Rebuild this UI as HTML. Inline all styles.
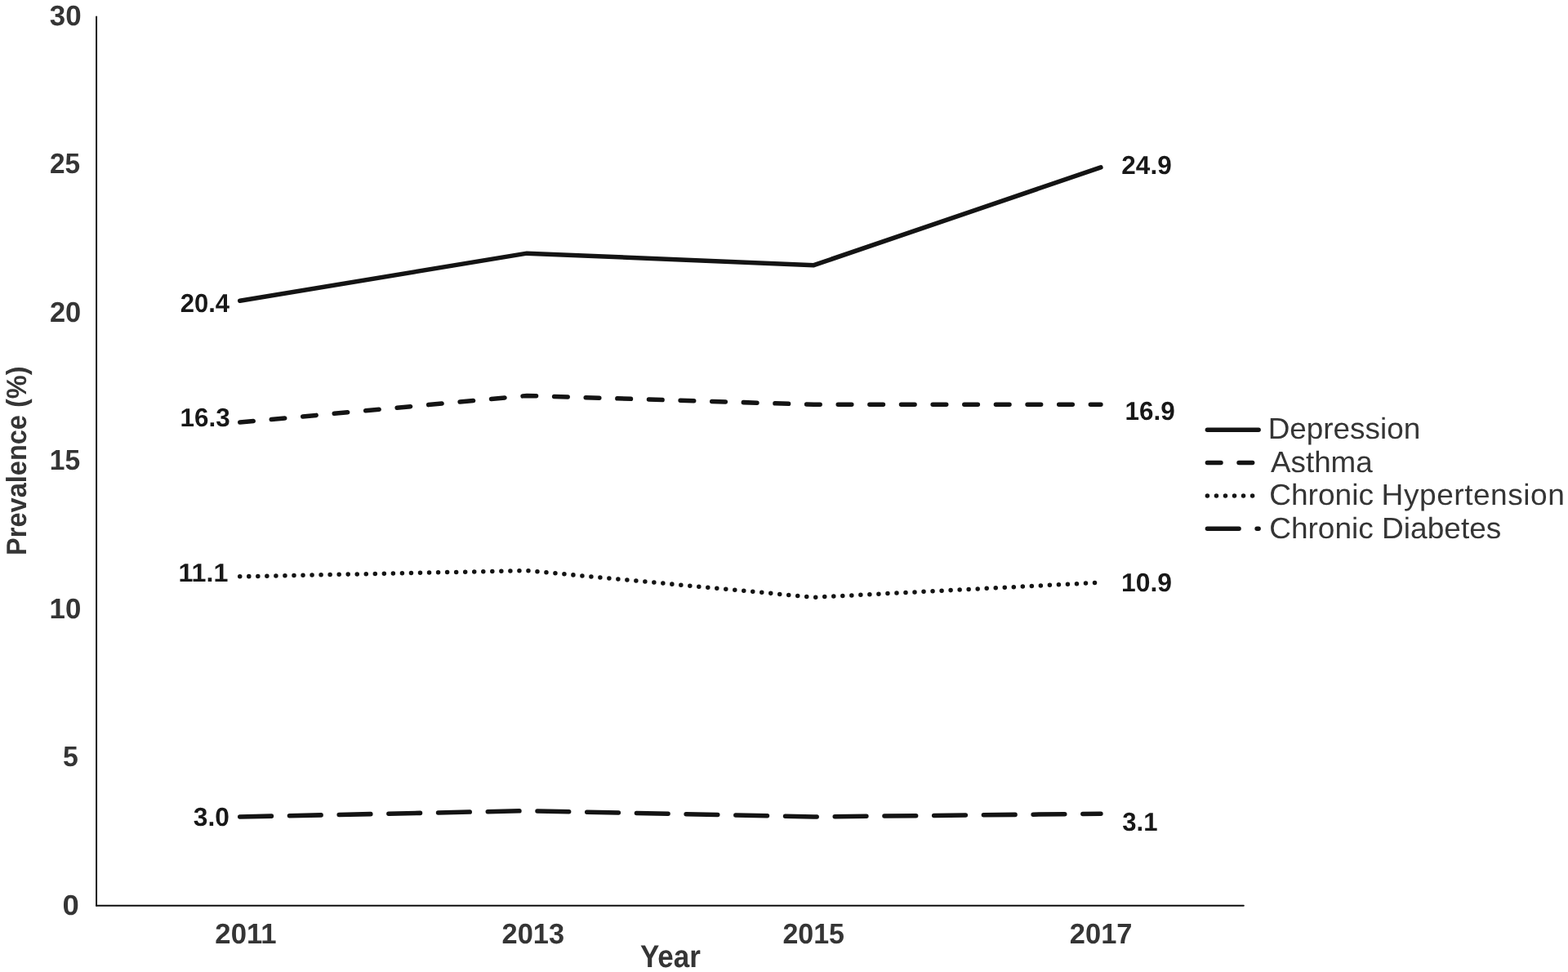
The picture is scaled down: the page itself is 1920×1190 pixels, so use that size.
<!DOCTYPE html>
<html lang="en">
<head>
<meta charset="utf-8">
<title>Prevalence by Year</title>
<style>
html,body{margin:0;padding:0;background:#fff;}
body{width:1920px;height:1190px;overflow:hidden;}
svg{display:block;}
text{font-family:"Liberation Sans",Arial,Helvetica,sans-serif;text-rendering:geometricPrecision;}
.b{font-weight:bold;}
.s{fill:none;stroke:#141414;stroke-width:5.52;stroke-linecap:round;stroke-linejoin:round;}
</style>
</head>
<body>
<svg width="1920" height="1190" viewBox="0 0 1920 1190">
<rect width="1920" height="1190" fill="#ffffff"/>
<!-- axes -->
<line x1="118.07" y1="20.50" x2="118.07" y2="1108.85" stroke="#1e1e1e" stroke-width="2" stroke-linecap="round"/>
<line x1="118.07" y1="1108.85" x2="1522.80" y2="1108.85" stroke="#0e0e0e" stroke-width="2" stroke-linecap="round"/>
<!-- series -->
<polyline class="s" points="293.76,368.23 645.14,310.14 996.53,324.66 1347.91,204.86"/>
<polyline class="s" points="293.76,517.08 645.14,484.40 996.53,495.30 1347.91,495.30" stroke-dasharray="16.56 22.08"/>
<polyline class="s" points="293.76,705.86 645.14,698.60 996.53,731.28 1347.91,713.13" stroke-dasharray="0.00 11.04"/>
<polyline class="s" points="293.76,999.93 645.14,992.67 996.53,999.93 1347.91,996.30" stroke-dasharray="38.64 22.08"/>
<!-- legend -->
<path class="s" d="M1478.40 526.20 H1541.10"/>
<path class="s" d="M1478.40 566.55 H1541.10" stroke-dasharray="16.56 22.08"/>
<path class="s" d="M1478.40 606.90 H1541.10" stroke-dasharray="0.00 11.04"/>
<path class="s" d="M1478.40 647.20 H1541.10" stroke-dasharray="38.64 22.08"/>
<!-- labels -->
<text class="b" transform="translate(60.80 30.80) scale(1.0040 1)" font-size="34.80" fill="#353535">30</text>
<text class="b" transform="translate(61.00 212.33) scale(0.9604 1)" font-size="34.80" fill="#353535">25</text>
<text class="b" transform="translate(60.97 393.85) scale(0.9888 1)" font-size="34.80" fill="#353535">20</text>
<text class="b" transform="translate(60.78 575.38) scale(0.9661 1)" font-size="34.80" fill="#353535">15</text>
<text class="b" transform="translate(60.51 756.90) scale(1.0011 1)" font-size="34.80" fill="#353535">10</text>
<text class="b" transform="translate(76.89 938.42) scale(0.9713 1)" font-size="34.80" fill="#353535">5</text>
<text class="b" transform="translate(76.62 1119.95) scale(1.0487 1)" font-size="34.80" fill="#353535">0</text>
<text class="b" transform="translate(263.36 1154.85) scale(0.9967 1)" font-size="34.80" fill="#353535">2011</text>
<text class="b" transform="translate(614.57 1154.85) scale(0.9878 1)" font-size="34.80" fill="#353535">2013</text>
<text class="b" transform="translate(958.38 1154.85) scale(0.9766 1)" font-size="34.80" fill="#353535">2015</text>
<text class="b" transform="translate(1309.87 1154.85) scale(0.9888 1)" font-size="34.80" fill="#353535">2017</text>
<text class="b" transform="translate(783.88 1184.00) scale(0.9109 1)" font-size="38.40" fill="#353535">Year</text>
<text class="b" transform="translate(220.67 381.80) scale(0.9770 1)" font-size="31.80" fill="#181818">20.4</text>
<text class="b" transform="translate(220.41 521.80) scale(0.9892 1)" font-size="31.80" fill="#181818">16.3</text>
<text class="b" transform="translate(218.47 712.20) scale(1.0140 1)" font-size="31.80" fill="#181818">11.1</text>
<text class="b" transform="translate(236.76 1010.70) scale(0.9995 1)" font-size="31.80" fill="#181818">3.0</text>
<text class="b" transform="translate(1373.36 212.50) scale(0.9902 1)" font-size="31.80" fill="#181818">24.9</text>
<text class="b" transform="translate(1377.41 513.50) scale(0.9892 1)" font-size="31.80" fill="#181818">16.9</text>
<text class="b" transform="translate(1372.99 723.70) scale(1.0011 1)" font-size="31.80" fill="#181818">10.9</text>
<text class="b" transform="translate(1374.28 1016.70) scale(0.9780 1)" font-size="31.80" fill="#181818">3.1</text>
<text transform="translate(1552.65 536.70) scale(1.0191 1)" font-size="36.20" fill="#353535">Depression</text>
<text transform="translate(1556.00 578.30) scale(1.0166 1)" font-size="36.20" fill="#353535">Asthma</text>
<text transform="translate(1554.14 617.50) scale(1.0252 1)" font-size="36.20" fill="#353535">Chronic <tspan x="134.10" letter-spacing="0.502">Hypertension</tspan></text>
<text transform="translate(1554.15 658.60) scale(1.0237 1)" font-size="36.20" fill="#353535">Chronic Diabetes</text>
<text class="b" transform="translate(32.20 679.92) rotate(-90) scale(0.9462 1)" font-size="34.40" fill="#353535">Prevalence (%)</text>
</svg>
</body>
</html>
